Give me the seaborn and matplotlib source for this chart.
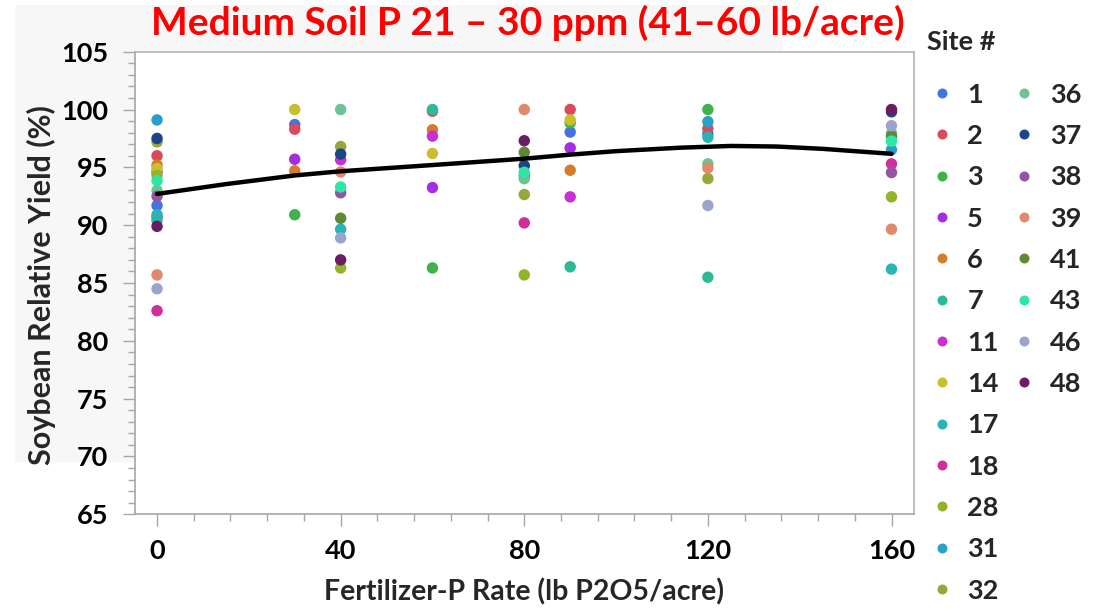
import matplotlib
matplotlib.use("Agg")
import matplotlib.pyplot as plt
from matplotlib.patches import Rectangle
from matplotlib.lines import Line2D
from matplotlib.ticker import MultipleLocator
import seaborn as sns
import pandas as pd

# ---------------- data ----------------
site_order = ["1", "2", "3", "5", "6", "7", "11", "14", "17", "18", "28",
              "31", "32", "36", "37", "38", "39", "41", "43", "46", "48"]
site_colors = ["#4573e3", "#d94a5a", "#3db34a", "#a42fe2", "#d47b2c", "#2cb996",
               "#c930d2", "#c9be2e", "#2bb3b5", "#d02e9c", "#93b329", "#2aa0c8",
               "#98a63a", "#6cc393", "#1a4689", "#9354a4", "#e0896b", "#5f8a33",
               "#2fe6a4", "#9ba4cc", "#6b1d63"]

sites_0 = ["31", "37", "32", "2", "6", "14", "11", "28", "43", "36", "38", "1",
           "17", "5", "7", "48", "39", "46", "18"]
yield_0 = [99.1, 97.5, 97.2, 96.0, 95.2, 94.9, 94.6, 94.3, 93.85, 93.0, 92.5, 91.7,
           90.9, 90.7, 90.4, 89.9, 85.7, 84.5, 82.6]

sites_30 = ["14", "1", "2", "5", "6", "3"]
yield_30 = [100.0, 98.7, 98.3, 95.7, 94.7, 90.9]

sites_40 = ["36", "32", "37", "11", "39", "43", "38", "41", "17", "46", "48", "28"]
yield_40 = [100.0, 96.8, 96.15, 95.65, 94.6, 93.3, 92.8, 90.6, 89.65, 88.9, 87.0, 86.3]

sites_60 = ["7", "2", "6", "11", "14", "5", "3"]
yield_60 = [100.0, 99.85, 98.25, 97.7, 96.2, 93.25, 86.3]

sites_80 = ["39", "48", "41", "37", "43", "17", "36", "32", "18", "28"]
yield_80 = [100.0, 97.3, 96.3, 95.15, 94.57, 94.3, 94.02, 92.65, 90.2, 85.7]

sites_90 = ["2", "3", "14", "1", "5", "6", "11", "7"]
yield_90 = [100.0, 98.85, 99.1, 98.05, 96.68, 94.75, 92.45, 86.4]

sites_120 = ["3", "31", "2", "1", "17", "36", "39", "32", "46", "7"]
yield_120 = [100.0, 98.95, 98.35, 97.9, 97.6, 95.3, 94.95, 94.03, 91.7, 85.5]

sites_160 = ["48", "37", "46", "36", "41", "43", "31", "18", "38", "28", "39", "17"]
yield_160 = [100.0, 99.8, 98.6, 97.95, 97.7, 97.27, 96.52, 95.3, 94.55, 92.45, 89.65, 86.2]

# response curve
curve_rate = [0, 15, 30, 40, 60, 80, 90, 100, 114, 125, 135, 145, 152, 160]
curve_yield = [92.7, 93.55, 94.3, 94.66, 95.2, 95.75, 96.1, 96.4, 96.7, 96.85, 96.8,
               96.6, 96.4, 96.17]

title_text = "Medium Soil P 21 \u2013 30 ppm (41\u201360 lb/acre)"
xlabel_text = "Fertilizer-P Rate (lb P2O5/acre)"
ylabel_text = "Soybean Relative Yield (%)"
legend_title = "Site #"

# ---------------- build table ----------------
groups = [(0, sites_0, yield_0), (30, sites_30, yield_30), (40, sites_40, yield_40),
          (60, sites_60, yield_60), (80, sites_80, yield_80), (90, sites_90, yield_90),
          (120, sites_120, yield_120), (160, sites_160, yield_160)]
rows = []
for rate, ss, yy in groups:
    for s, y in zip(ss, yy):
        rows.append({"rate": rate, "site": s, "yield": y})
df = pd.DataFrame(rows)
df["order"] = df["site"].map({s: i for i, s in enumerate(site_order)})
df = df.sort_values(["order", "rate"], kind="stable").reset_index(drop=True)
palette = dict(zip(site_order, site_colors))
curve = pd.DataFrame({"rate": curve_rate, "yield": curve_yield})

# ---------------- figure ----------------
sns.set_theme(style="white")
FONT = ["Lato", "DejaVu Sans"]
plt.rcParams["font.family"] = FONT

W, H = 1109, 611
fig = plt.figure(figsize=(W / 100, H / 100), dpi=100)
fig.patch.set_facecolor("white")
fig.patches.append(Rectangle((15 / W, 1 - 462 / H), 768 / W, 457 / H,
                             transform=fig.transFigure, facecolor="#f7f7f7",
                             edgecolor="none", zorder=-10))

ax = fig.add_axes([135 / W, 1 - 514.3 / H, (914 - 135) / W, (514.3 - 51.7) / H])
ax.set_facecolor("white")

sns.scatterplot(data=df, x="rate", y="yield", hue="site", palette=palette,
                hue_order=site_order, s=68, linewidth=0, alpha=1, legend=False,
                ax=ax, zorder=2)
sns.lineplot(data=curve, x="rate", y="yield", color="black", linewidth=3.2,
             ax=ax, zorder=3)

ax.set_xlim(-4.8, 164.9)
ax.set_ylim(65, 105)
ax.xaxis.set_major_locator(MultipleLocator(40))
ax.xaxis.set_minor_locator(MultipleLocator(8))
ax.yaxis.set_major_locator(MultipleLocator(5))
ax.yaxis.set_minor_locator(MultipleLocator(1))
ax.set_xlabel("")
ax.set_ylabel("")

spine_c = "#a6a6a6"
for sp in ax.spines.values():
    sp.set_visible(True)
    sp.set_color(spine_c)
    sp.set_linewidth(1.2)
ax.spines["top"].set_color("#b4b4b4")
ax.spines["right"].set_color("#b4b4b4")

ax.tick_params(axis="both", which="major", direction="out", length=8.5, width=1.0,
               color=spine_c, labelsize=19.5, labelcolor="black")
ax.tick_params(axis="both", which="minor", direction="out", length=4.8, width=1.0,
               color=spine_c)
ax.tick_params(axis="y", which="both", left=True, right=False)
ax.tick_params(axis="x", which="both", bottom=True, top=False)
ax.tick_params(axis="x", which="major", pad=9)
ax.tick_params(axis="y", which="major", pad=11)
for lab in ax.get_xticklabels() + ax.get_yticklabels():
    lab.set_fontweight("bold")
    lab.set_family(FONT)

# texts
fig.text(528 / W, 1 - 35 / H, title_text, color="#ff0000", fontsize=28,
         fontweight="bold", ha="center", va="baseline", family=FONT)
fig.text(524 / W, 1 - 592 / H, xlabel_text, fontsize=20.5, fontweight="bold",
         ha="center", va="center", family=FONT)
fig.text(41 / W, 1 - 285 / H, ylabel_text, fontsize=22, fontweight="bold",
         rotation=90, ha="center", va="center", family=FONT)
fig.text(927 / W, 1 - 50 / H, legend_title, fontsize=19.5, fontweight="bold",
         ha="left", va="baseline", family=FONT)

# legend: 13 rows in the first column, 8 in the second
handles, labels = [], []
for s, c in zip(site_order, site_colors):
    handles.append(Line2D([], [], linestyle="none", marker="o", markersize=7.2,
                          markerfacecolor=c, markeredgewidth=0))
    labels.append(s)
for _ in range(26 - len(site_order)):
    handles.append(Line2D([], [], linestyle="none"))
    labels.append("")
leg = fig.legend(handles, labels, ncol=2, loc="upper left",
                 bbox_to_anchor=(928 / W, 1 - 82.6 / H), frameon=False,
                 borderpad=0, borderaxespad=0, handlelength=1.0,
                 handletextpad=0.45, columnspacing=0.43, labelspacing=0.64,
                 prop={"family": FONT, "weight": "bold", "size": 19.5})

fig.savefig("out.png", dpi=100)
